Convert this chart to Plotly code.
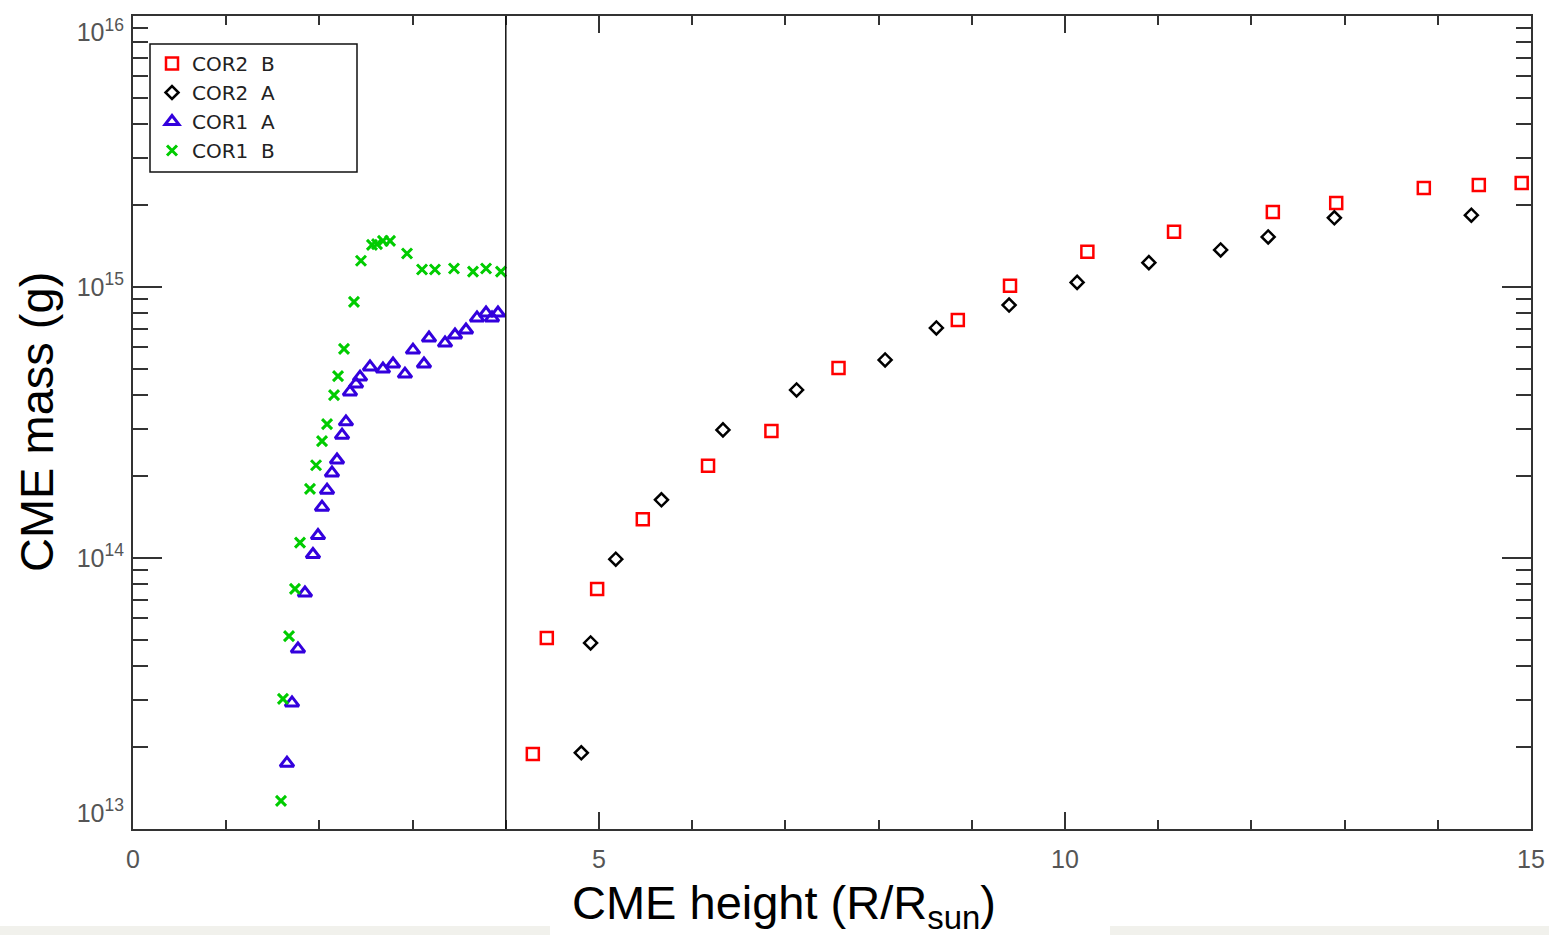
import plotly.graph_objects as go

# ---- data ----
cor2b_h = [4.29, 4.44, 4.98, 5.47, 6.17, 6.85, 7.57, 8.85, 9.41, 10.24, 11.17, 12.23, 12.91, 13.85, 14.44, 14.90]
cor2b_m = [1.89e13, 5.07e13, 7.69e13, 1.39e14, 2.19e14, 2.94e14, 5.02e14, 7.55e14, 1.01e15, 1.35e15,
           1.60e15, 1.89e15, 2.04e15, 2.32e15, 2.38e15, 2.42e15]

cor2a_h = [4.81, 4.91, 5.18, 5.67, 6.33, 7.12, 8.07, 8.62, 9.40, 10.13, 10.90, 11.67, 12.18, 12.89, 14.36]
cor2a_m = [1.91e13, 4.86e13, 9.9e13, 1.64e14, 2.97e14, 4.17e14, 5.38e14, 7.06e14, 8.58e14, 1.04e15,
           1.23e15, 1.37e15, 1.53e15, 1.80e15, 1.84e15]

cor1a_h = [1.652, 1.706, 1.770, 1.845, 1.931, 1.985, 2.028, 2.082, 2.135, 2.189, 2.243, 2.285, 2.328,
           2.393, 2.436, 2.543, 2.682, 2.790, 2.918, 3.004, 3.122, 3.176, 3.348, 3.455, 3.573, 3.691,
           3.788, 3.852, 3.916]
cor1a_m = [1.75e13, 2.92e13, 4.62e13, 7.43e13, 1.03e14, 1.21e14, 1.54e14, 1.78e14, 2.06e14, 2.30e14,
           2.84e14, 3.18e14, 4.10e14, 4.39e14, 4.65e14, 5.07e14, 4.98e14, 5.20e14, 4.77e14, 5.85e14,
           5.20e14, 6.48e14, 6.21e14, 6.65e14, 6.94e14, 7.69e14, 8.02e14, 7.69e14, 8.02e14]

cor1b_h = [1.588, 1.609, 1.674, 1.738, 1.792, 1.899, 1.964, 2.028, 2.082, 2.157, 2.200, 2.264, 2.371,
           2.446, 2.564, 2.618, 2.682, 2.758, 2.940, 3.101, 3.240, 3.444, 3.648, 3.788, 3.948]
cor1b_m = [1.27e13, 3.02e13, 5.15e13, 7.69e13, 1.14e14, 1.80e14, 2.20e14, 2.70e14, 3.12e14, 3.99e14,
           4.69e14, 5.91e14, 8.81e14, 1.25e15, 1.43e15, 1.44e15, 1.48e15, 1.48e15, 1.33e15, 1.16e15,
           1.16e15, 1.17e15, 1.14e15, 1.17e15, 1.14e15]

series_names = ["COR2\u00a0\u00a0B", "COR2\u00a0\u00a0A", "COR1\u00a0\u00a0A", "COR1\u00a0\u00a0B"]

x_tickvals = [0, 5, 10, 15]
x_ticktext = ["0", "5", "10", "15"]
y_tickvals = [1e13, 1e14, 1e15, 1e16]
# end labels are nudged inward (as in the reference) with an empty line
y_ticktext = ["10<sup>13</sup><br> ", "10<sup>14</sup>", "10<sup>15</sup>", " <br>10<sup>16</sup>"]
y_minor = [k * 10 ** e for e in (13, 14, 15) for k in range(2, 10)]
divider_x = 4

AX = "#333333"
TICKFONT = dict(family="Liberation Sans", size=25, color="#555555")

W, H = 1549, 935
# plot-area geometry in page pixels
L, R, T, B = 133, 1531, 16, 829
PW, PH = R - L, B - T


def px(xp):
    return (xp - L) / PW


def py(yp):
    return (B - yp) / PH


fig = go.Figure()
fig.add_trace(go.Scatter(x=cor2b_h, y=cor2b_m, mode="markers", name=series_names[0],
                         marker=dict(symbol="square-open", size=12, color="#ff0000",
                                     line=dict(width=2.5, color="#ff0000"))))
fig.add_trace(go.Scatter(x=cor2a_h, y=cor2a_m, mode="markers", name=series_names[1],
                         marker=dict(symbol="diamond-open", size=10, color="#000000",
                                     line=dict(width=2.5, color="#000000"))))
fig.add_trace(go.Scatter(x=cor1a_h, y=cor1a_m, mode="markers", name=series_names[2],
                         marker=dict(symbol="triangle-up-open", size=12, color="#3300dd",
                                     line=dict(width=3, color="#3300dd"))))
fig.add_trace(go.Scatter(x=cor1b_h, y=cor1b_m, mode="markers", name=series_names[3],
                         marker=dict(symbol="x-thin-open", size=10, color="#00cc00",
                                     line=dict(width=3, color="#00cc00"))))

fig.add_shape(type="line", xref="x", yref="paper", x0=divider_x, x1=divider_x, y0=0, y1=1,
              line=dict(color="#111111", width=1.5))

# legend frame
fig.add_shape(type="rect", xref="paper", yref="paper",
              x0=px(150), x1=px(357), y0=py(172), y1=py(44),
              line=dict(color="#111111", width=1.5), fillcolor="white", layer="below")

# background artifact band at bottom
for xa, xb in [(0, 550), (1110, 1549)]:
    fig.add_shape(type="rect", xref="paper", yref="paper",
                  x0=px(xa), x1=px(xb), y0=py(935), y1=py(926),
                  line=dict(width=0), fillcolor="#f1f1ec", layer="below")

fig.add_annotation(text="CME height (R/R<sub>sun</sub>)", xref="paper", yref="paper",
                   x=px(784), y=py(906), xanchor="center", yanchor="middle",
                   showarrow=False, font=dict(family="Liberation Sans", size=47, color="#000000"))
fig.add_annotation(text="CME mass (g)", xref="paper", yref="paper",
                   x=px(36), y=py(422), xanchor="center", yanchor="middle",
                   textangle=-90, showarrow=False,
                   font=dict(family="Liberation Sans", size=47, color="#000000"))

fig.update_layout(
    width=W, height=H,
    margin=dict(l=L, r=W - R, t=T, b=H - B, autoexpand=False),
    paper_bgcolor="white", plot_bgcolor="white",
    showlegend=True,
    legend=dict(x=px(152), y=py(44), xanchor="left", yanchor="top",
                bgcolor="rgba(0,0,0,0)", borderwidth=0,
                font=dict(family="DejaVu Sans", size=20, color="#222222"),
                tracegroupgap=0),
    xaxis=dict(range=[0, 15], tickmode="array", tickvals=x_tickvals, ticktext=x_ticktext,
               ticks="inside", ticklen=17, tickwidth=2, tickcolor=AX, automargin=False,
               minor=dict(dtick=1, tick0=0, ticks="inside", ticklen=9, tickwidth=2, tickcolor=AX),
               showline=True, linecolor=AX, linewidth=2, mirror="ticks",
               showgrid=False, zeroline=False, tickfont=TICKFONT, ticklabelstandoff=7,
               ticklabeloverflow="allow"),
    yaxis=dict(type="log", range=[13, 16], tickmode="array", tickvals=y_tickvals, ticktext=y_ticktext,
               ticks="inside", ticklen=29, tickwidth=2, tickcolor=AX, automargin=False,
               minor=dict(tickmode="array", tickvals=y_minor, ticks="inside", ticklen=15,
                          tickwidth=2, tickcolor=AX),
               showline=True, linecolor=AX, linewidth=2, mirror="ticks",
               showgrid=False, zeroline=False, tickfont=TICKFONT, ticklabelstandoff=2,
               ticklabeloverflow="allow"),
)

fig.write_html("out.html", config={"displayModeBar": False},
               post_script="document.body.style.margin='0';document.body.style.overflow='hidden';")
